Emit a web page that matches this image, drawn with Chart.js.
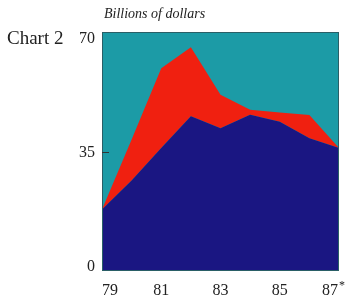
<!DOCTYPE html>
<html>
<head>
<meta charset="utf-8">
<script src="https://cdn.jsdelivr.net/npm/chart.js@4"></script>
<style>
  body { margin: 0; background: #fff; }
  #wrap { position: relative; width: 347px; height: 298px; }
  .lbl { position: absolute; font-family: "Liberation Serif", serif; color: #222; white-space: nowrap; }
</style>
</head>
<body>
<div id="wrap">
  <canvas id="myChart" width="347" height="298"></canvas>
  <div class="lbl" style="left:7px; top:27px; font-size:19px;">Chart 2</div>
  <div class="lbl" style="left:104px; top:6px; font-size:14px; font-style:italic;">Billions of dollars</div>
</div>
<script>
const years = ['79', '80', '81', '82', '83', '84', '85', '86', '87'];
const xTickLabels = ['79', '81', '83', '85', '87'];
const yTickValues = [0, 35, 70];

// lower (navy) series and the top of the red band (cumulative)
const baseValues = [18, 26.5, 36, 45.3, 41.8, 45.8, 43.7, 38.9, 36];
const topValues = [18, 38.5, 59.4, 65.5, 51.6, 47.2, 46.4, 45.7, 36];

const teal = '#1c9ba6';
const red = '#f02010';
const navy = '#1a1682';

const plotBack = {
  id: 'plotBack',
  beforeDatasetsDraw(chart) {
    const a = chart.chartArea;
    const ctx = chart.ctx;
    ctx.save();
    ctx.fillStyle = teal;
    ctx.fillRect(a.left, a.top, a.right - a.left, a.bottom - a.top);
    ctx.restore();
  },
  afterDraw(chart) {
    const a = chart.chartArea;
    const ctx = chart.ctx;
    const x = chart.scales.x;
    const y = chart.scales.y;
    ctx.save();
    ctx.strokeStyle = '#2a5f66';
    ctx.lineWidth = 1;
    ctx.strokeRect(a.left + 0.5, a.top + 0.5, a.right - a.left - 1, a.bottom - a.top - 1);

    // small inward tick at the middle value
    ctx.strokeStyle = '#333';
    ctx.beginPath();
    ctx.moveTo(a.left, Math.round(y.getPixelForValue(35)) + 0.5);
    ctx.lineTo(a.left + 7, Math.round(y.getPixelForValue(35)) + 0.5);
    ctx.stroke();

    ctx.fillStyle = '#222';
    ctx.font = '16px "Liberation Serif", serif';
    ctx.textBaseline = 'alphabetic';

    // y labels
    ctx.textAlign = 'right';
    yTickValues.forEach(v => {
      let py = y.getPixelForValue(v) + 5.5;
      if (v === 70) py = a.top + 11;
      if (v === 0) py = a.bottom;
      ctx.fillText(String(v), a.left - 7, py);
    });

    // x labels
    xTickLabels.forEach((lab, i) => {
      const px = x.getPixelForValue(years.indexOf(lab));
      if (i === 0) {
        ctx.textAlign = 'left';
        ctx.fillText(lab, a.left, 295);
      } else if (i === xTickLabels.length - 1) {
        ctx.textAlign = 'right';
        ctx.fillText(lab, a.right - 1, 295);
        ctx.textAlign = 'left';
        ctx.font = '12px "Liberation Serif", serif';
        ctx.fillText('*', a.right, 289);
        ctx.font = '16px "Liberation Serif", serif';
      } else {
        ctx.textAlign = 'center';
        ctx.fillText(lab, px, 295);
      }
    });
    ctx.restore();
  }
};

const data = {
  labels: years,
  datasets: [{
    label: 'base',
    data: baseValues,
    backgroundColor: navy,
    borderColor: navy,
    borderWidth: 0,
    pointRadius: 0,
    fill: 'origin',
    tension: 0
  },
  {
    label: 'top',
    data: topValues,
    backgroundColor: red,
    borderColor: red,
    borderWidth: 0,
    pointRadius: 0,
    fill: '-1',
    tension: 0
  }]
};

const config = {
  type: 'line',
  data: data,
  options: {
    responsive: false,
    animation: false,
    layout: { padding: { left: 102, top: 32, right: 8, bottom: 27 } },
    plugins: { legend: { display: false }, tooltip: { enabled: false } },
    scales: {
      x: { display: false, offset: false },
      y: { display: false, min: 0, max: 70 }
    }
  },
  plugins: [plotBack]
};

const myChart = new Chart(document.getElementById('myChart'), config);
</script>
</body>
</html>
